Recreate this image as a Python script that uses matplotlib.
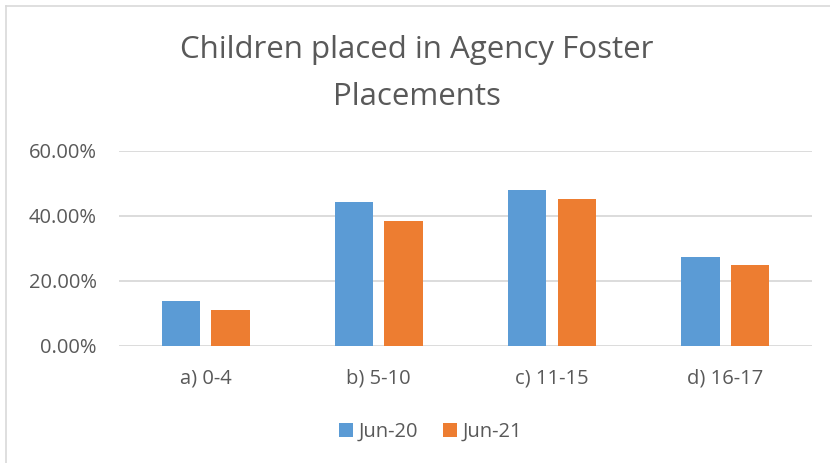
import numpy as np
import matplotlib.pyplot as plt
from matplotlib.ticker import FuncFormatter
from matplotlib.lines import Line2D

categories = ['a) 0-4', 'b) 5-10', 'c) 11-15', 'd) 16-17']
jun20 = [13.7, 44.1, 48.0, 27.3]
jun21 = [11.0, 38.4, 45.1, 24.8]
series_names = ['Jun-20', 'Jun-21']
colors = ['#5B9BD5', '#ED7D31']

plt.rcParams['font.family'] = ['Liberation Sans Narrow', 'Open Sans', 'DejaVu Sans']
text_col = '#595959'

fig = plt.figure(figsize=(8.3, 4.63), dpi=100)
ax = fig.add_axes([0.1434, 0.2527, 0.8346, 0.4218])

x = np.arange(len(categories))
w = 0.222
ax.bar(x - 0.143, jun20, w, color=colors[0], label=series_names[0], zorder=3)
ax.bar(x + 0.143, jun21, w, color=colors[1], label=series_names[1], zorder=3)

ax.set_xlim(-0.5, len(categories) - 0.5)
ax.set_ylim(0, 60)
ax.set_yticks([0, 20, 40, 60])
ax.yaxis.set_major_formatter(FuncFormatter(lambda v, p: f'{v:.2f}%'))
ax.set_xticks(x)
ax.set_xticklabels(categories)
ax.grid(axis='y', color='#D9D9D9', linewidth=1.3, zorder=0)
for s in ax.spines.values():
    s.set_visible(False)
ax.tick_params(length=0, labelsize=14.5, labelcolor=text_col)
ax.tick_params(axis='y', pad=16)
ax.tick_params(axis='x', pad=16)

fig.text(0.502, 0.842, 'Children placed in Agency Foster\nPlacements', ha='center', va='center',
         fontsize=22.5, color=text_col, linespacing=1.75)

ax.legend(loc='center', bbox_to_anchor=(0.45, -0.44), ncol=2, frameon=False,
          fontsize=14.5, labelcolor=text_col, handlelength=0.7, handleheight=0.7,
          handletextpad=0.3, columnspacing=1.2)

# chart border (top and left visible)
fig.add_artist(Line2D([0.007, 1.0], [0.987, 0.987], color='#D9D9D9', linewidth=1.2))
fig.add_artist(Line2D([0.007, 0.007], [0.0, 0.987], color='#D9D9D9', linewidth=1.2))

fig.savefig('out.png', dpi=100)
